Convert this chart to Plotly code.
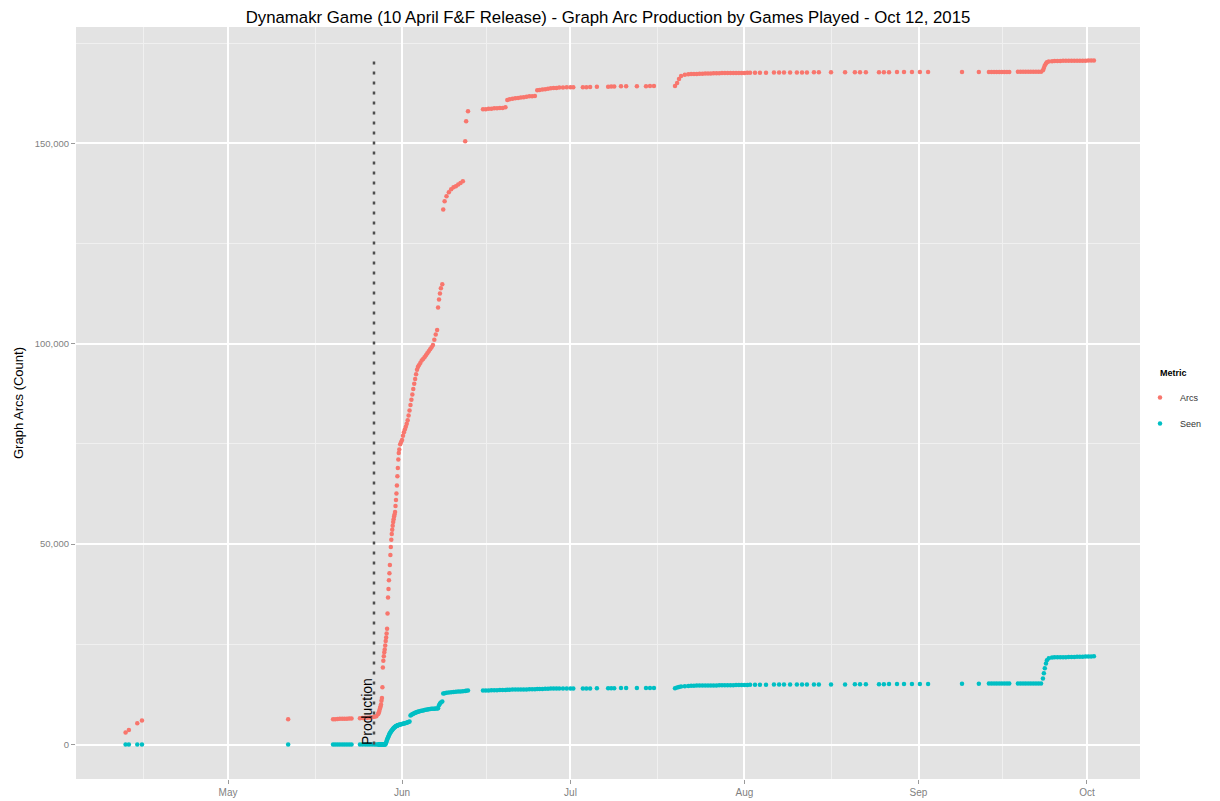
import plotly.graph_objects as go

# Timestamp of each game played, with the cumulative graph arcs produced and seen
game_times = [
    # April friends & family pilot
    "2015-04-12 18:00", "2015-04-13 08:00", "2015-04-14 20:00", "2015-04-15 16:00",
    "2015-05-11 17:00",
    "2015-05-19 17:00", "2015-05-20 02:00", "2015-05-20 12:00", "2015-05-20 22:00", "2015-05-21 08:00",
    "2015-05-21 18:00", "2015-05-22 04:00", "2015-05-22 14:00", "2015-05-23 00:00",
    "2015-05-24 12:00", "2015-05-24 23:00", "2015-05-25 10:00", "2015-05-25 20:00", "2015-05-26 06:00",
    "2015-05-26 16:00", "2015-05-27 02:00", "2015-05-27 10:00",
    # production launch ramp
    "2015-05-27 18:00", "2015-05-27 20:00", "2015-05-27 22:00",
    "2015-05-28 00:00", "2015-05-28 02:00", "2015-05-28 04:00", "2015-05-28 06:00", "2015-05-28 08:00",
    "2015-05-28 10:00", "2015-05-28 12:00", "2015-05-28 14:00", "2015-05-28 16:00", "2015-05-28 18:00",
    "2015-05-28 20:00", "2015-05-28 22:00",
    "2015-05-29 00:00", "2015-05-29 02:00", "2015-05-29 04:00", "2015-05-29 06:00", "2015-05-29 08:00",
    "2015-05-29 10:00", "2015-05-29 12:00", "2015-05-29 14:00", "2015-05-29 16:00", "2015-05-29 18:00",
    "2015-05-29 20:00", "2015-05-29 22:00",
    "2015-05-30 00:00", "2015-05-30 02:00", "2015-05-30 04:00", "2015-05-30 06:00", "2015-05-30 08:00",
    "2015-05-30 10:00", "2015-05-30 12:00", "2015-05-30 14:00", "2015-05-30 16:00", "2015-05-30 18:00",
    "2015-05-30 20:00", "2015-05-30 22:00",
    "2015-05-31 00:00", "2015-05-31 02:00", "2015-05-31 04:00", "2015-05-31 06:00", "2015-05-31 08:00",
    "2015-05-31 10:00", "2015-05-31 12:00",
    "2015-05-31 16:00", "2015-05-31 20:00", "2015-06-01 00:00", "2015-06-01 04:00", "2015-06-01 08:00",
    "2015-06-01 12:00", "2015-06-01 16:00", "2015-06-01 20:00", "2015-06-02 00:00", "2015-06-02 04:00",
    "2015-06-02 08:00", "2015-06-02 12:00", "2015-06-02 16:00", "2015-06-02 20:00", "2015-06-03 00:00",
    "2015-06-03 04:00", "2015-06-03 08:00", "2015-06-03 12:00", "2015-06-03 16:00", "2015-06-03 20:00",
    "2015-06-04 00:00", "2015-06-04 06:00", "2015-06-04 12:00", "2015-06-04 18:00", "2015-06-05 00:00",
    "2015-06-05 06:00", "2015-06-05 12:00", "2015-06-05 18:00", "2015-06-06 00:00", "2015-06-06 06:00",
    "2015-06-06 12:00", "2015-06-06 18:00", "2015-06-07 00:00", "2015-06-07 06:00",
    "2015-06-07 10:00", "2015-06-07 14:00", "2015-06-07 18:00", "2015-06-07 22:00", "2015-06-08 04:00",
    "2015-06-08 08:00", "2015-06-08 14:00", "2015-06-08 22:00", "2015-06-09 08:00", "2015-06-09 18:00",
    "2015-06-10 04:00", "2015-06-10 14:00", "2015-06-11 00:00", "2015-06-11 10:00", "2015-06-11 20:00",
    "2015-06-12 06:00", "2015-06-12 10:00", "2015-06-12 18:00",
    # mid June to early July
    "2015-06-15 10:00", "2015-06-15 22:00", "2015-06-16 10:00", "2015-06-16 22:00", "2015-06-17 10:00",
    "2015-06-17 22:00", "2015-06-18 10:00", "2015-06-18 22:00", "2015-06-19 10:00", "2015-06-19 18:00",
    "2015-06-20 04:00", "2015-06-20 16:00", "2015-06-21 04:00", "2015-06-21 16:00", "2015-06-22 04:00",
    "2015-06-22 16:00", "2015-06-23 04:00", "2015-06-23 16:00", "2015-06-24 04:00", "2015-06-24 16:00",
    "2015-06-25 02:00", "2015-06-25 12:00", "2015-06-26 00:00", "2015-06-26 12:00", "2015-06-27 00:00",
    "2015-06-27 12:00", "2015-06-28 00:00", "2015-06-28 12:00", "2015-06-29 00:00", "2015-06-29 16:00",
    "2015-06-30 08:00", "2015-07-01 00:00", "2015-07-01 12:00",
    "2015-07-03 05:00", "2015-07-03 20:00", "2015-07-04 12:00", "2015-07-05 17:00", "2015-07-07 17:00",
    "2015-07-08 06:00", "2015-07-08 19:00", "2015-07-10 00:00", "2015-07-10 22:00", "2015-07-12 20:00",
    "2015-07-14 11:00", "2015-07-15 04:00", "2015-07-15 21:00",
    # late July burst
    "2015-07-19 15:00", "2015-07-20 00:00", "2015-07-20 08:00", "2015-07-20 17:00", "2015-07-21 09:00",
    "2015-07-22 00:00", "2015-07-22 12:00", "2015-07-23 00:00", "2015-07-23 12:00", "2015-07-24 00:00",
    "2015-07-24 12:00", "2015-07-25 00:00", "2015-07-25 12:00", "2015-07-26 00:00", "2015-07-26 12:00",
    "2015-07-27 00:00", "2015-07-27 12:00", "2015-07-28 00:00", "2015-07-28 12:00", "2015-07-29 00:00",
    "2015-07-29 12:00", "2015-07-30 00:00", "2015-07-30 12:00", "2015-07-31 00:00", "2015-07-31 12:00",
    "2015-08-01 00:00", "2015-08-01 12:00",
    # August
    "2015-08-02 00:00", "2015-08-02 21:00", "2015-08-03 18:00", "2015-08-04 20:00", "2015-08-06 06:00",
    "2015-08-07 04:00", "2015-08-08 01:00", "2015-08-09 03:00", "2015-08-10 08:00", "2015-08-11 06:00",
    "2015-08-12 03:00", "2015-08-13 09:00", "2015-08-14 06:00", "2015-08-16 10:00", "2015-08-18 22:00",
    "2015-08-20 16:00", "2015-08-21 14:00", "2015-08-22 15:00", "2015-08-24 23:00", "2015-08-25 20:00",
    "2015-08-26 18:00", "2015-08-28 04:00", "2015-08-29 10:00", "2015-08-30 20:00", "2015-09-01 06:00",
    "2015-09-02 17:00",
    # September
    "2015-09-08 18:00", "2015-09-11 18:00",
    "2015-09-13 13:00", "2015-09-14 00:00", "2015-09-14 11:00", "2015-09-14 22:00", "2015-09-15 09:00",
    "2015-09-15 20:00", "2015-09-16 07:00", "2015-09-16 18:00", "2015-09-17 04:00",
    "2015-09-18 17:00", "2015-09-19 04:00", "2015-09-19 15:00", "2015-09-20 02:00", "2015-09-20 13:00",
    "2015-09-21 00:00", "2015-09-21 11:00", "2015-09-21 22:00", "2015-09-22 09:00", "2015-09-22 20:00",
    "2015-09-23 04:00", "2015-09-23 08:00", "2015-09-23 12:00", "2015-09-23 17:00", "2015-09-23 21:00",
    "2015-09-24 05:00", "2015-09-24 19:00",
    "2015-09-25 06:00", "2015-09-25 18:00", "2015-09-26 06:00", "2015-09-26 18:00", "2015-09-27 06:00",
    "2015-09-27 18:00", "2015-09-28 06:00", "2015-09-28 18:00", "2015-09-29 06:00", "2015-09-29 18:00",
    "2015-09-30 06:00", "2015-09-30 18:00", "2015-10-01 06:00", "2015-10-01 18:00", "2015-10-02 06:00",
]

arcs = [
    3000, 3600, 5300, 6000,
    6300,
    6300, 6300, 6350, 6400, 6400,
    6450, 6450, 6500, 6500,
    6550, 6600, 6650, 6700, 6750,
    6800, 6900, 7050,
    7600, 7900, 8200,
    8700, 9100, 9500, 10000, 10900,
    11600, 14300, 19200, 20900, 22000,
    23000, 23700,
    24700, 25800, 26700, 27700, 28900,
    32700, 36700, 38800, 41000, 42700,
    44800, 47300,
    49300, 51100, 52500, 53600, 54600,
    55500, 56200, 56900, 57400, 58000,
    59500, 61000,
    62600, 64600, 66900, 69000, 71100,
    72700, 73600,
    74900, 75500, 76000, 77000, 77900,
    78600, 79300, 80000, 80900, 82100,
    83300, 84700, 86000, 87300, 88700,
    90000, 91200, 92400, 93500, 94200,
    94600, 95200, 95800, 96200, 96600,
    97100, 97600, 98100, 98600, 99100,
    99700, 101000, 102300, 103400,
    109000, 111000, 112500, 113800, 114800,
    133500, 135500, 136800, 137800, 138500,
    139000, 139300, 139700, 140100, 140500,
    150500, 155500, 158000,
    158500, 158500, 158600, 158600, 158700,
    158700, 158800, 158800, 159000, 160800,
    161000, 161100, 161200, 161300, 161400,
    161500, 161600, 161700, 161700, 161800,
    163200, 163300, 163400, 163500, 163600,
    163700, 163800, 163800, 163900, 163900,
    164000, 164000, 164000,
    164000, 164000, 164050, 164100, 164100,
    164150, 164150, 164200, 164200, 164250,
    164250, 164300, 164300,
    164300, 165000, 166000, 166800, 167100,
    167200, 167250, 167300, 167300, 167350,
    167350, 167400, 167400, 167400, 167450,
    167450, 167450, 167500, 167500, 167500,
    167500, 167500, 167550, 167550, 167550,
    167550, 167600,
    167600, 167600, 167600, 167600, 167650,
    167650, 167650, 167650, 167650, 167650,
    167650, 167700, 167700, 167700, 167700,
    167700, 167700, 167700, 167700, 167700,
    167700, 167750, 167750, 167750, 167750,
    167750,
    167750, 167750,
    167800, 167800, 167800, 167800, 167800,
    167800, 167800, 167800, 167800,
    167850, 167850, 167850, 167850, 167850,
    167850, 167850, 167850, 167850, 167850,
    168200, 168800, 169400, 169900, 170200,
    170400, 170450,
    170500, 170500, 170500, 170550, 170550,
    170550, 170550, 170600, 170600, 170600,
    170600, 170600, 170650, 170650, 170650,
]

seen = [
    0, 0, 0, 0,
    0,
    0, 0, 0, 0, 0,
    0, 0, 0, 0,
    0, 0, 0, 0, 0,
    0, 0, 0,
    0, 0, 0,
    0, 0, 0, 0, 0,
    0, 0, 0, 0, 0,
    0, 0,
    0, 200, 500, 900, 1200,
    1500, 1750, 2000, 2300, 2600,
    2800, 3000,
    3200, 3350, 3500, 3600, 3800,
    3950, 4100, 4200, 4300, 4400,
    4500, 4600,
    4650, 4700, 4750, 4800, 4850,
    4900, 4950,
    5000, 5050, 5100, 5200, 5250,
    5300, 5400, 5450, 5550, 5650,
    5750, 7250, 7400, 7550, 7700,
    7800, 7900, 8000, 8100, 8200,
    8250, 8350, 8450, 8500, 8600,
    8650, 8750, 8800, 8850, 8900,
    8950, 8950, 9000, 9000,
    9050, 9800, 10250, 10500, 10750,
    12700, 12800, 12900, 13000, 13050,
    13100, 13150, 13200, 13250, 13300,
    13350, 13400, 13450,
    13500, 13500, 13500, 13550, 13550,
    13550, 13600, 13600, 13600, 13650,
    13650, 13700, 13700, 13700, 13750,
    13750, 13750, 13800, 13800, 13800,
    13850, 13850, 13850, 13900, 13900,
    13950, 13950, 14000, 14000, 14000,
    14000, 14000, 14000,
    14000, 14000, 14000, 14050, 14050,
    14050, 14050, 14100, 14100, 14100,
    14100, 14100, 14100,
    14050, 14200, 14350, 14450, 14550,
    14600, 14650, 14650, 14700, 14700,
    14700, 14700, 14750, 14750, 14750,
    14750, 14800, 14800, 14800, 14800,
    14800, 14800, 14850, 14850, 14850,
    14850, 14850,
    14900, 14900, 14900, 14900, 14950,
    14950, 14950, 14950, 14950, 15000,
    15000, 15000, 15000, 15000, 15000,
    15050, 15050, 15050, 15050, 15050,
    15100, 15100, 15100, 15100, 15100,
    15100,
    15150, 15150,
    15200, 15200, 15200, 15200, 15200,
    15200, 15200, 15200, 15200,
    15250, 15250, 15250, 15250, 15250,
    15250, 15250, 15250, 15250, 15250,
    16500, 17800, 19000, 20200, 21000,
    21500, 21700,
    21750, 21750, 21800, 21800, 21800,
    21850, 21850, 21850, 21900, 21900,
    21900, 21950, 21950, 21950, 22000,
]

assert len(game_times) == len(arcs) == len(seen)

production_date = "2015-05-27"
month_ticks = ["2015-05-01", "2015-06-01", "2015-07-01", "2015-08-01", "2015-09-01", "2015-10-01"]
month_labels = ["May", "Jun", "Jul", "Aug", "Sep", "Oct"]
mid_month_ticks = ["2015-04-16", "2015-05-16 12:00", "2015-06-16", "2015-07-16 12:00",
                   "2015-08-16 12:00", "2015-09-16"]
y_ticks = [0, 50000, 100000, 150000]
y_minor_ticks = [25000, 75000, 125000, 175000]

FONT = "Liberation Sans, Arial, Helvetica, sans-serif"
PANEL = "#E3E3E3"

fig = go.Figure()
fig.add_trace(go.Scatter(
    x=game_times, y=arcs, mode="markers", name="Arcs", legendgroup="arcs",
    marker=dict(color="#F8766D", size=4.5),
))
fig.add_trace(go.Scatter(
    x=game_times, y=seen, mode="markers", name="Seen", legendgroup="seen",
    marker=dict(color="#00BFC4", size=4.5),
))

# production release marker
fig.add_shape(
    type="line", xref="x", yref="y",
    x0=production_date, x1=production_date, y0=0, y1=max(arcs),
    line=dict(color="#4D4D4D", width=2.5, dash="3px,7px"),
)
fig.add_annotation(
    x=production_date, y=0, xref="x", yref="y", text="Production",
    textangle=-90, showarrow=False, xanchor="right", yanchor="bottom",
    xshift=3, yshift=-2, font=dict(family=FONT, size=14, color="black"),
)

# legend heading
fig.add_annotation(
    x=(1158 - 76) / 1064, y=(779 - 373) / 752, xref="paper", yref="paper",
    text="<b>Metric</b>", showarrow=False, xanchor="left", yanchor="middle",
    font=dict(family=FONT, size=9, color="black"),
)

fig.update_layout(
    width=1220, height=801,
    margin=dict(l=76, r=80, t=27, b=22, autoexpand=False),
    paper_bgcolor="white", plot_bgcolor=PANEL,
    font=dict(family=FONT, color="black"),
    title=dict(
        text="Dynamakr Game (10 April F&F Release) - Graph Arc Production by Games Played - Oct 12, 2015",
        x=0.5, xref="paper", y=1 - 17 / 801, yref="container", yanchor="middle", xanchor="center",
        font=dict(family=FONT, size=16.8, color="black"),
    ),
    legend=dict(
        font=dict(size=9, color="#333333"),
        x=1.0, xanchor="left", y=0.5266, yanchor="top",
        bgcolor="rgba(0,0,0,0)", tracegroupgap=7,
    ),
    showlegend=True,
)

fig.update_xaxes(
    type="date", automargin=False,
    range=["2015-04-03 22:00", "2015-10-10 11:00"],
    tickvals=month_ticks, ticktext=month_labels,
    tickfont=dict(size=10, color="#7F7F7F"),
    ticks="outside", ticklen=4, tickcolor="#9A9A9A",
    showgrid=True, gridcolor="white", gridwidth=1.5,
    minor=dict(tickvals=mid_month_ticks, showgrid=True, gridcolor="#F0F0F0", gridwidth=0.7, ticks=""),
    zeroline=False, showline=False,
)
fig.update_yaxes(
    automargin=False,
    range=[-8600, 179000],
    tickvals=y_ticks, tickformat=",",
    tickfont=dict(size=9.5, color="#7F7F7F"),
    ticks="outside", ticklen=4, tickcolor="#9A9A9A",
    showgrid=True, gridcolor="white", gridwidth=1.5,
    minor=dict(tickvals=y_minor_ticks, showgrid=True, gridcolor="#F0F0F0", gridwidth=0.7, ticks=""),
    zeroline=False, showline=False,
    title=dict(text="Graph Arcs (Count)", font=dict(size=13, color="black"), standoff=8),
)

fig.write_html("out.html")
